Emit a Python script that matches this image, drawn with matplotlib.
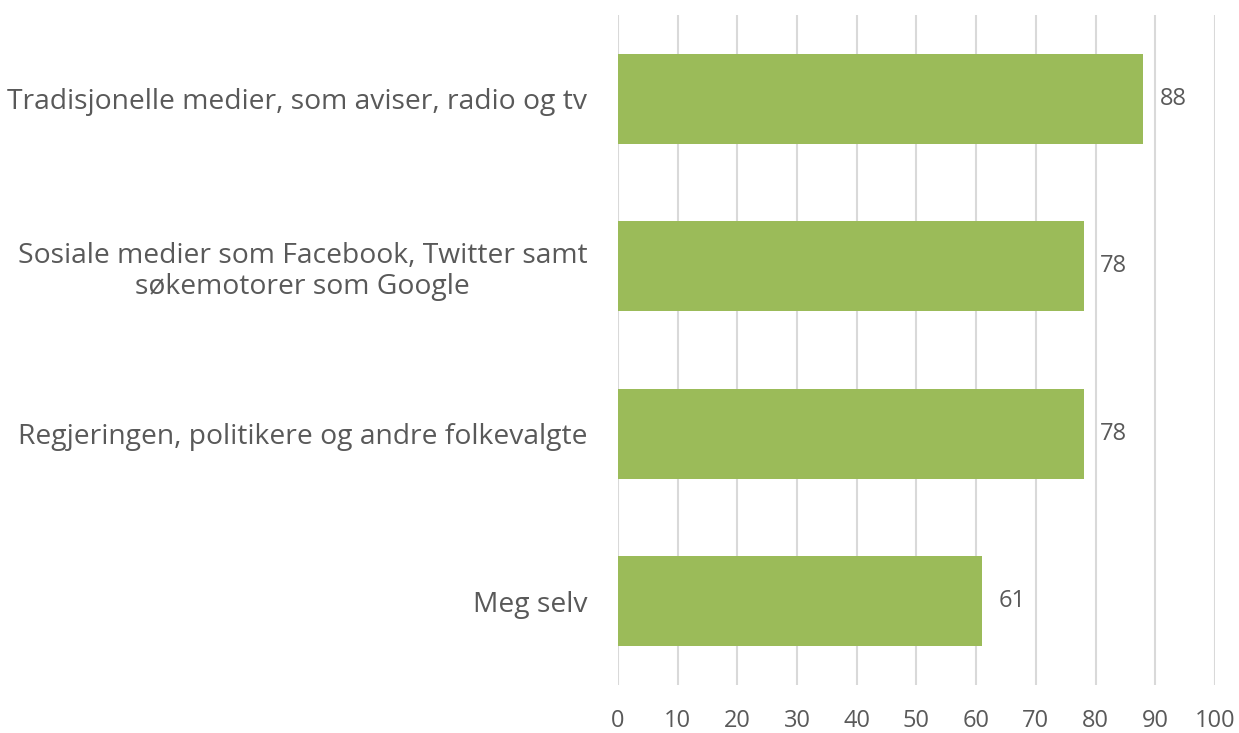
import matplotlib.pyplot as plt

categories = [
    "Tradisjonelle medier, som aviser, radio og tv",
    "Sosiale medier som Facebook, Twitter samt\nsøkemotorer som Google",
    "Regjeringen, politikere og andre folkevalgte",
    "Meg selv",
]
values = [88, 78, 78, 61]
ticks = list(range(0, 101, 10))

text_color = "#595959"
bar_color = "#9BBB59"

plt.rcParams["font.family"] = ["Open Sans", "DejaVu Sans"]

fig = plt.figure(figsize=(12.39, 7.33), dpi=100)
ax = fig.add_axes([0.4988, 0.0655, 0.4818, 0.914])

pos = list(range(len(categories)))
ax.barh(pos, values, height=0.535, color=bar_color, zorder=2)

# value labels just right of each bar
for y, v in zip(pos, values):
    ax.annotate(str(v), (v, y), xytext=(12, 0), textcoords="offset points",
                va="center", ha="left", fontsize=17, color=text_color)

ax.set_xlim(0, 100)
ax.set_ylim(len(categories) - 0.5, -0.5)
ax.set_xticks(ticks)
ax.set_yticks(pos)
ax.set_yticklabels(categories, fontsize=20.3, color=text_color, ha="right",
                   multialignment="center", linespacing=1.15)
ax.tick_params(axis="y", length=0, pad=22)
ax.tick_params(axis="x", length=0, pad=17, labelsize=17, labelcolor=text_color)

ax.grid(axis="x", color="#D9D9D9", linewidth=1.5, zorder=0)
for s in ax.spines.values():
    s.set_visible(False)

fig.savefig("out.png", dpi=100)
